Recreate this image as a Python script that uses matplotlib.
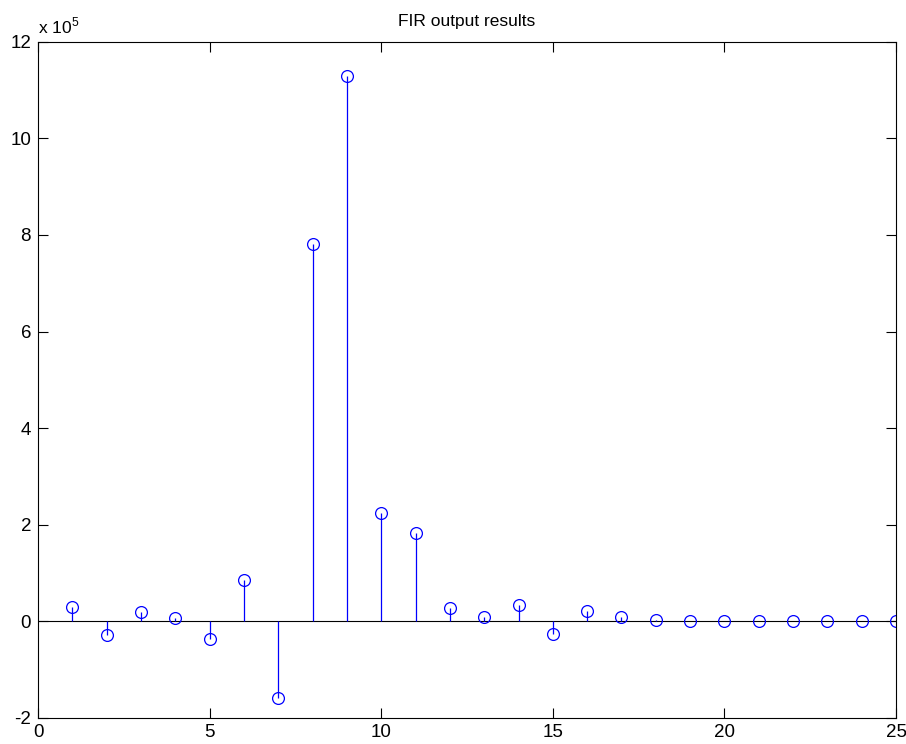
import numpy as np
import matplotlib
matplotlib.use("Agg")
import matplotlib.pyplot as plt
from matplotlib.ticker import FuncFormatter

plt.rcParams['font.family'] = ['Liberation Sans', 'DejaVu Sans']
plt.rcParams['mathtext.fontset'] = 'custom'
plt.rcParams['mathtext.rm'] = 'Liberation Sans'

# FIR filter output samples (n = 1..25)
n = np.arange(1, 26)
y = np.array([0.29, -0.29, 0.19, 0.07, -0.37, 0.86, -1.59, 7.81, 11.28, 2.25,
              1.83, 0.27, 0.10, 0.34, -0.27, 0.21, 0.08, 0.035, 0.015, 0.0,
              0.0, 0.0, 0.0, 0.0, 0.0]) * 1e5

xticks = [0, 5, 10, 15, 20, 25]
yticks = np.arange(-2, 13, 2) * 1e5

fig = plt.figure(figsize=(9.06, 7.44), dpi=100)
ax = fig.add_axes([0.042, 0.035, 0.947, 0.909])

ax.axhline(0, color='#000000', lw=0.8, zorder=1)
ml, sl, bl = ax.stem(n, y, basefmt=' ')
plt.setp(sl, color='#0000ff', lw=0.9)
plt.setp(ml, marker='o', markersize=8.5, markerfacecolor='none',
         markeredgecolor='#0000ff', markeredgewidth=0.9)

ax.set_xlim(0, 25)
ax.set_ylim(-2e5, 12e5)
ax.set_xticks(xticks)
ax.set_yticks(yticks)
ax.yaxis.set_major_formatter(FuncFormatter(lambda v, _: f'{v/1e5:g}'))
ax.tick_params(direction='in', top=True, right=True, length=7, width=0.8,
               labelsize=13.5)
ax.tick_params(axis='x', pad=4)
ax.tick_params(axis='y', pad=5)
for s in ax.spines.values():
    s.set_linewidth(0.8)

ax.set_title('FIR output results', fontsize=12.5, pad=11)
ax.text(0, 1.008, r'x 10$^{5}$', transform=ax.transAxes, fontsize=12.5,
        ha='left', va='bottom')

fig.savefig('out.png', dpi=100)
